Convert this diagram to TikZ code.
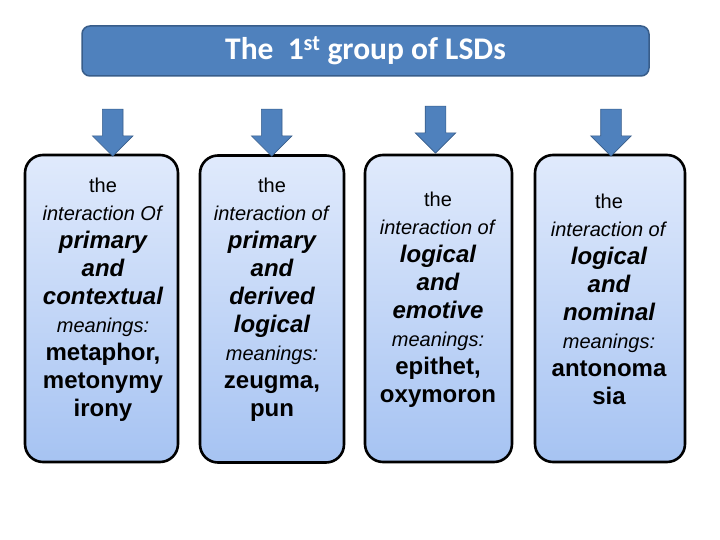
\documentclass[tikz,border=0pt]{standalone}
\usepackage{fontspec}
\setmainfont{Liberation Sans}
\newfontfamily\titlefont{Carlito}
\usetikzlibrary{shapes.arrows}

\definecolor{lsdblue}{HTML}{4F81BD}
\definecolor{lsdedge}{HTML}{385D8A}
\definecolor{boxtop}{HTML}{E0EAFC}
\definecolor{boxbot}{HTML}{A6C3F2}

\newcommand\lsdbi[1]{{\fontsize{24}{28}\selectfont\bfseries\itshape #1}}
\newcommand\lsdb[1]{{\fontsize{24}{28}\selectfont\bfseries #1}}

\tikzset{
  titlebox/.style={draw=lsdedge, line width=1.5pt, fill=lsdblue, rounded corners=8pt,
    minimum width=567pt, minimum height=50pt, text=white,
    font=\titlefont\bfseries\fontsize{31.5}{34}\selectfont},
  downarrow/.style={single arrow, rotate=-90, fill=lsdblue, draw=lsdedge, line width=0.6pt,
    minimum height=47pt, minimum width=40pt, single arrow head extend=10pt,
    inner xsep=0pt, inner ysep=10pt},
  lsdbox/.style={draw=black, line width=2.6pt, rounded corners=18pt,
    top color=boxtop, bottom color=boxbot, minimum height=307pt},
  lsdtext/.style={align=center, inner sep=0pt, font=\fontsize{20}{28}\selectfont}
}

\begin{document}
\begin{tikzpicture}[x=1pt, y=-1pt]
    \useasboundingbox (0,0) rectangle (720,540);
    % heading
    \node[titlebox] (title) at (365.5,51) {The\ \ 1\textsuperscript{st} group of LSDs};
    % boxes
    \node[lsdbox, minimum width=153pt] (b1) at (101.5,308.5) {};
    \node[lsdbox, minimum width=144pt] (b2) at (272,309) {};
    \node[lsdbox, minimum width=147pt] (b3) at (438.5,308.5) {};
    \node[lsdbox, minimum width=150pt] (b4) at (610,308.5) {};
    % arrows
    \node[downarrow] (a1) at (112.7,127.5) {};
    \node[downarrow] (a2) at (271.7,127.5) {};
    \node[downarrow] (a3) at (435.5,124.5) {};
    \node[downarrow] (a4) at (611,127.5) {};
    % texts
    \node[lsdtext] (t1) at (103,300) {the\\ \textit{interaction Of}\\ \lsdbi{primary}\\ \lsdbi{and}\\
        \lsdbi{contextual}\\ \textit{meanings:}\\ \lsdb{metaphor,}\\ \lsdb{metonymy}\\ \lsdb{irony}};
    \node[lsdtext] (t2) at (272,300) {the\\ \textit{interaction of}\\ \lsdbi{primary}\\ \lsdbi{and}\\
        \lsdbi{derived}\\ \lsdbi{logical}\\ \textit{meanings:}\\ \lsdb{zeugma,}\\ \lsdb{pun}};
    \node[lsdtext] (t3) at (438,300) {the\\ \textit{interaction of}\\ \lsdbi{logical}\\ \lsdbi{and}\\
        \lsdbi{emotive}\\ \textit{meanings:}\\ \lsdb{epithet,}\\ \lsdb{oxymoron}};
    \node[lsdtext] (t4) at (609,299) {the\\ \textit{interaction of}\\ \lsdbi{logical}\\ \lsdbi{and}\\
        \lsdbi{nominal}\\ \textit{meanings:}\\ \lsdb{antonoma}\\ \lsdb{sia}};
\end{tikzpicture}
\end{document}
